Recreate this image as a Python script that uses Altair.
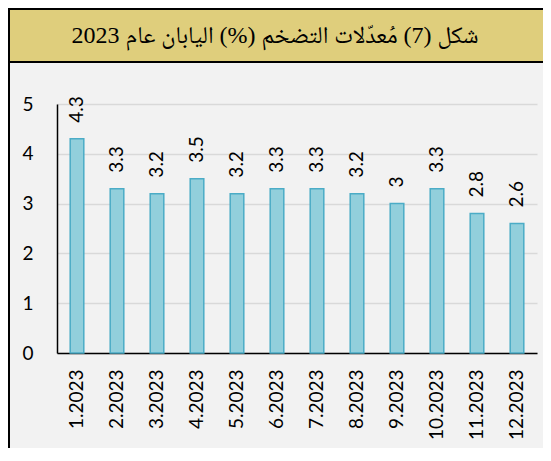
import altair as alt
import pandas as pd

months = ["1.2023", "2.2023", "3.2023", "4.2023", "5.2023", "6.2023",
          "7.2023", "8.2023", "9.2023", "10.2023", "11.2023", "12.2023"]
inflation = [4.3, 3.3, 3.2, 3.5, 3.2, 3.3, 3.3, 3.2, 3.0, 3.3, 2.8, 2.6]
value_labels = ["4.3", "3.3", "3.2", "3.5", "3.2", "3.3", "3.3", "3.2", "3", "3.3", "2.8", "2.6"]
title_text = "شكل (7) مُعدّلات التضخم (%) اليابان عام 2023"

df = pd.DataFrame({"month": months, "value": inflation, "label": value_labels})
one = pd.DataFrame({"t": [title_text]})

FONT = "Lato"

x_enc = alt.X("month:N", sort=months, title=None,
              scale=alt.Scale(paddingInner=0.66, paddingOuter=0.33),
              axis=alt.Axis(labelAngle=-90, labelFontSize=19, labelFont=FONT,
                            labelColor="#000000", labelPadding=16, ticks=False,
                            domainColor="#000000", domainWidth=1.5, grid=False))
y_enc = alt.Y("value:Q", title=None,
              scale=alt.Scale(domain=[0, 5], nice=False),
              axis=alt.Axis(values=[0, 1, 2, 3, 4, 5], labelFontSize=19, labelFont=FONT,
                            labelColor="#000000", labelPadding=24, ticks=False,
                            domainColor="#000000", domainWidth=1.5,
                            gridColor="#d9d9d9", gridWidth=1.5))

bars = alt.Chart(df).mark_bar(color="#92cfdc", stroke="#4bacc6", strokeWidth=1.5).encode(
    x=x_enc, y=y_enc)

labels = alt.Chart(df).mark_text(angle=270, align="left", baseline="middle",
                                 dx=16, fontSize=19, font=FONT, color="#000000").encode(
    x=alt.X("month:N", sort=months), y=alt.Y("value:Q"), text="label:N")

border = alt.Chart(one).mark_rect(fill=None, fillOpacity=0, stroke="#000000", strokeWidth=2).encode(
    x=alt.value(-48), x2=alt.value(495), y=alt.value(-95), y2=alt.value(420))

title_box = alt.Chart(one).mark_rect(fill="#dfce7c", stroke="#000000", strokeWidth=2).encode(
    x=alt.value(-48), x2=alt.value(495), y=alt.value(-95), y2=alt.value(-42))

title = alt.Chart(one).mark_text(align="center", baseline="middle", fontSize=24,
                                 font="'Liberation Serif', 'Noto Naskh Arabic'", color="#000000").encode(
    x=alt.value(218), y=alt.value(-68), text="t:N")

chart = alt.layer(border, title_box, title, bars, labels).properties(
    width=480, height=249,
    autosize=alt.AutoSizeParams(type="none"),
    padding={"left": 49, "top": 96, "right": 6, "bottom": 95},
    background="#f2f2f2",
).configure_view(stroke=None)

chart.save("out.html", embed_options={"renderer": "svg", "actions": False})
